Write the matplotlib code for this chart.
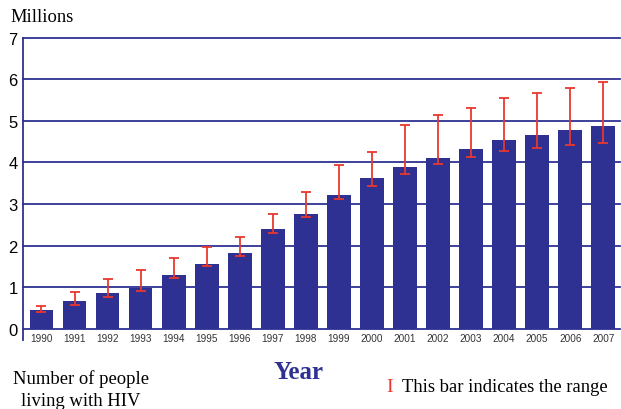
import matplotlib.pyplot as plt
from matplotlib.lines import Line2D

years = [str(y) for y in range(1990, 2008)]
people = [0.45, 0.66, 0.85, 0.98, 1.30, 1.55, 1.81, 2.39, 2.77, 3.22,
          3.63, 3.88, 4.10, 4.32, 4.53, 4.66, 4.79, 4.88]
high = [0.55, 0.87, 1.19, 1.40, 1.71, 1.97, 2.21, 2.77, 3.29, 3.94,
        4.24, 4.91, 5.15, 5.32, 5.54, 5.67, 5.80, 5.93]
low = [0.39, 0.58, 0.77, 0.91, 1.23, 1.50, 1.74, 2.29, 2.68, 3.12,
       3.44, 3.73, 3.96, 4.14, 4.28, 4.35, 4.42, 4.47]
yticks = [0, 1, 2, 3, 4, 5, 6, 7]

navy = '#2E3192'
red = '#E8382F'

fig = plt.figure(figsize=(6.21, 4.10), dpi=100)
ax = fig.add_axes([0.0375, 0.196, 0.9605, 0.7096])

x = list(range(len(years)))
ax.bar(x, people, width=0.72, color=navy, zorder=2)
yerr = [[p - l for p, l in zip(people, low)], [h - p for p, h in zip(people, high)]]
ax.errorbar(x, people, yerr=yerr, fmt='none', ecolor=red, elinewidth=1.3,
            capsize=3.6, capthick=1.3, zorder=3)

# gridlines
for t in yticks[1:]:
    ax.axhline(t, color=navy, lw=1.3, zorder=1, clip_on=False)

ax.set_xlim(-0.55, 17.5)
ax.set_ylim(0, 7)
ax.set_yticks(yticks)
ax.set_xticks(x)
ax.set_xticklabels(years, fontsize=7.2, family='Liberation Sans', color='#333333')
ax.set_yticklabels([str(t) for t in yticks], fontsize=12, family='Liberation Sans')
ax.tick_params(length=0, pad=3)
ax.tick_params(axis='y', pad=4)
for s in ['top', 'right']:
    ax.spines[s].set_visible(False)
ax.spines['bottom'].set_color(navy)
ax.spines['bottom'].set_linewidth(1.3)
ax.spines['left'].set_visible(False)
ax.add_line(Line2D([0, 0], [-0.04, 1], transform=ax.transAxes, color=navy,
                   lw=1.3, clip_on=False))

serif = 'Liberation Serif'
fig.text(10 / 621, 1 - 18 / 410, 'Millions', family=serif, fontsize=13.3, va='center')
fig.text(299 / 621, 1 - 373 / 410, 'Year', family=serif, fontsize=18,
         fontweight='bold', color=navy, ha='center', va='center')
fig.text(81 / 621, 1 - 390 / 410, 'Number of people\nliving with HIV', family=serif,
         fontsize=13.4, ha='center', va='center', linespacing=1.35)
fig.text(390 / 621, 1 - 388 / 410, 'I', family=serif, fontsize=14, color=red,
         ha='center', va='center')
fig.text(402 / 621, 1 - 388 / 410, 'This bar indicates the range', family=serif,
         fontsize=13.4, va='center')

fig.savefig('out.png', dpi=100)
